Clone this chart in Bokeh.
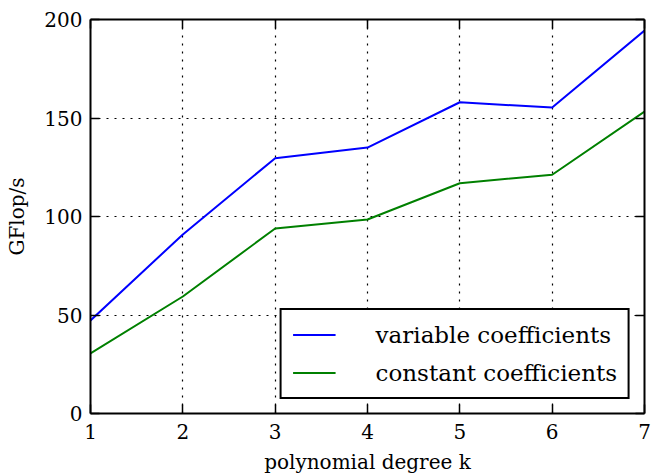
from bokeh.plotting import figure
from bokeh.models import LinearAxis, FixedTicker, Legend, LegendItem, Range1d
from bokeh.embed import file_html
from bokeh.resources import INLINE

degree = [1, 2, 3, 4, 5, 6, 7]
variable_coeff = [47.2, 90.9, 129.6, 135.0, 158.0, 155.3, 194.4]
constant_coeff = [30.5, 59.4, 93.9, 98.5, 116.9, 121.2, 153.2]
x_ticks = [1, 2, 3, 4, 5, 6, 7]
y_ticks = [0, 50, 100, 150, 200]

FONT = "DejaVu Serif"

p = figure(width=651, height=476, output_backend="svg", toolbar_location=None,
           x_range=Range1d(1, 7), y_range=Range1d(0, 200),
           min_border_left=90, min_border_right=7, min_border_top=19, min_border_bottom=63)
p.outline_line_color = None
p.background_fill_color = "white"
p.border_fill_color = "white"

r1 = p.line(degree, variable_coeff, line_color="#0000ff", line_width=2)
r2 = p.line(degree, constant_coeff, line_color="#008000", line_width=2)

def style_axis(ax, show_labels=True):
    ax.axis_line_width = 2
    ax.axis_line_color = "black"
    ax.major_tick_in = 9
    ax.major_tick_out = 0
    ax.major_tick_line_width = 1.5
    ax.minor_tick_line_color = None
    ax.major_label_text_font = FONT
    ax.major_label_text_font_size = "20px"
    ax.major_label_text_color = "black"
    ax.axis_label_text_font = FONT
    ax.axis_label_text_font_style = "normal"
    ax.axis_label_text_font_size = "20px"
    ax.axis_label_text_color = "black"
    if not show_labels:
        ax.major_label_text_font_size = "0px"
        ax.major_label_text_alpha = 0

p.xaxis.ticker = FixedTicker(ticks=x_ticks)
p.yaxis.ticker = FixedTicker(ticks=y_ticks)
for ax in p.xaxis + p.yaxis:
    style_axis(ax)
p.xaxis.axis_label = "polynomial degree k"
p.yaxis.axis_label = "GFlop/s"
p.xaxis.major_label_standoff = 10
p.yaxis.major_label_standoff = 8
p.xaxis.axis_label_standoff = 8
p.yaxis.axis_label_standoff = 12

top = LinearAxis(ticker=FixedTicker(ticks=x_ticks))
style_axis(top, False)
right = LinearAxis(ticker=FixedTicker(ticks=y_ticks))
style_axis(right, False)
p.add_layout(top, "above")
p.add_layout(right, "right")

p.grid.grid_line_color = "black"
p.grid.grid_line_dash = "2 6"
p.grid.grid_line_width = 1.2
p.xgrid.ticker = FixedTicker(ticks=x_ticks)
p.ygrid.ticker = FixedTicker(ticks=y_ticks)

legend = Legend(items=[LegendItem(label="variable coefficients", renderers=[r1]),
                       LegendItem(label="constant coefficients", renderers=[r2])],
                location="bottom_right")
legend.label_text_font = FONT
legend.label_text_font_size = "23px"
legend.label_text_color = "black"
legend.border_line_color = "black"
legend.border_line_width = 2.5
legend.border_line_alpha = 1
legend.background_fill_alpha = 1
legend.glyph_width = 43
legend.glyph_height = 27
legend.label_height = 27
legend.label_standoff = 40
legend.spacing = 11
legend.padding = 11
legend.margin = 14
p.add_layout(legend, "center")

open("out.html", "w").write(file_html(p, INLINE))
